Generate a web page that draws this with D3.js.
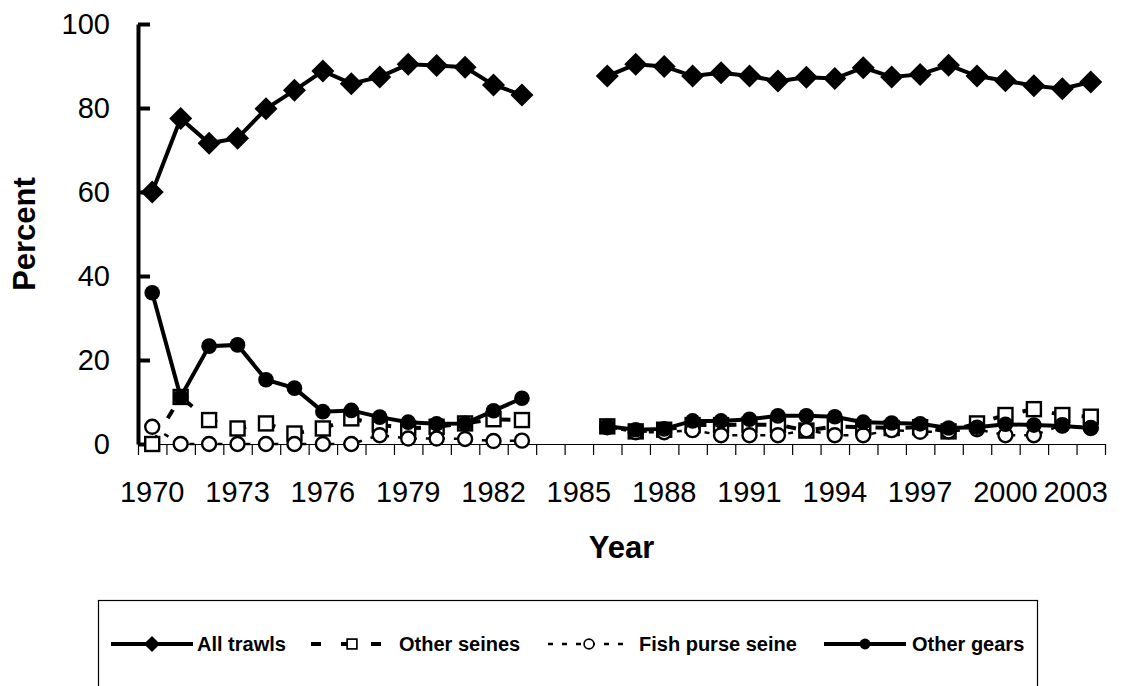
<!DOCTYPE html>
<html>
<head>
<meta charset="utf-8">
<script src="https://cdn.jsdelivr.net/npm/d3@7"></script>
<style>
  body { margin: 0; background: #fff; }
  svg { display: block; font-family: 'Liberation Sans', Arial, sans-serif; }
  .tick text { font-size: 29px; fill: #000; }
  .axis-title { font-size: 31px; font-weight: bold; }
  .legend text { font-size: 20px; font-weight: bold; }
</style>
</head>
<body>
<svg id="chart"></svg>
<script>
// years on the category axis, 1984 and 1985 have no data
var years = d3.range(1970, 2004);
var yearLabels = [1970, 1973, 1976, 1979, 1982, 1985, 1988, 1991, 1994, 1997, 2000, 2003];
var percentTicks = [0, 20, 40, 60, 80, 100];

var allTrawls = [60, 77.5, 71.6, 72.8, 79.8, 84.2, 88.8, 85.8, 87.4, 90.4, 90.1, 89.7, 85.5, 83.1,
  null, null,
  87.6, 90.4, 89.9, 87.6, 88.4, 87.6, 86.4, 87.3, 87.0, 89.6, 87.4, 88.0, 90.2, 87.6, 86.5, 85.3, 84.6, 86.2];

var otherSeines = [0, 11.2, 5.7, 3.7, 4.9, 2.5, 3.7, 6.1, 4.6, 3.7, 4.1, 4.9, 5.9, 5.7,
  null, null,
  4.2, 3.0, 3.4, 4.5, 4.5, 4.6, 4.6, 3.2, 4.2, 4.0, 3.8, 4.0, 3.0, 4.9, 6.9, 8.3, 6.9, 6.5];

var fishPurseSeine = [4.1, 0, 0, 0, 0, 0, 0, 0, 2.1, 1.3, 1.3, 1.2, 0.7, 0.8,
  null, null,
  4.0, 2.8, 2.8, 3.3, 2.1, 2.1, 2.1, 3.3, 2.1, 2.1, 3.3, 2.9, 3.0, 3.5, 2.1, 2.1, 4.5, 3.8];

var otherGears = [36, 11.2, 23.3, 23.6, 15.3, 13.3, 7.7, 8.0, 6.4, 5.2, 4.8, 4.9, 7.9, 10.9,
  null, null,
  4.2, 3.4, 3.6, 5.5, 5.5, 5.9, 6.7, 6.7, 6.5, 5.2, 5.0, 4.8, 3.8, 4.0, 4.7, 4.5, 4.3, 3.8];

var seriesNames = ["All trawls", "Other seines", "Fish purse seine", "Other gears"];


/* ~~~~~~~~~ SVG SETUP ~~~~~~~~~ */
var svgWidth = 1132, svgHeight = 686;
var plot = { left: 138, right: 1105, top: 24, bottom: 444 };

var svg = d3.select("#chart").attr("width", svgWidth).attr("height", svgHeight);
svg.append("rect").attr("width", svgWidth).attr("height", svgHeight).attr("fill", "#fff");

// category axis: each year is a slot, ticks sit on the slot edges
var x_scale = d3.scaleLinear().domain([1969.5, 2003.5]).range([plot.left, plot.right]);
var y_scale = d3.scaleLinear().domain([0, 100]).range([plot.bottom, plot.top]);

var series = [
  { name: seriesNames[0], values: allTrawls,      marker: "diamond", dash: null,    width: 4 },
  { name: seriesNames[1], values: otherSeines,    marker: "square",  dash: "10,20", width: 4 },
  { name: seriesNames[2], values: fishPurseSeine, marker: "circle",  dash: "5,9",   width: 2.5 },
  { name: seriesNames[3], values: otherGears,     marker: "dot",     dash: null,    width: 4 }
];


/* ~~~~~~~~~ axes ~~~~~~~~~ */
var xAxis = svg.append("g").attr("class", "x-axis")
  .attr("transform", "translate(0," + plot.bottom + ")");
xAxis.call(
    d3.axisBottom(x_scale)
      .tickValues(years.map(function(y){ return y - 0.5; }).concat([2003.5]))
      .tickSizeInner(11)
      .tickSizeOuter(0)
      .tickFormat("")
  )
  .call(g => g.selectAll("line").attr("stroke", "#000").attr("stroke-width", 1.2))
  .call(g => g.select(".domain").attr("stroke", "#000").attr("stroke-width", 1.2));

// year labels every 3rd year (the last one is pulled in to fit, like the original)
var xLabels = svg.append("g").attr("class", "x-labels");
xLabels.selectAll("text")
  .data(yearLabels)
  .enter()
  .append("text")
  .attr("x", function(d){ return d === 2003 ? 1108 : x_scale(d); })
  .attr("y", 502)
  .attr("text-anchor", function(d){ return d === 2003 ? "end" : "middle"; })
  .style("font-size", "29px")
  .text(function(d){ return d; });

var yAxis = svg.append("g").attr("class", "y-axis")
  .attr("transform", "translate(" + plot.left + ",0)");
yAxis.call(
    d3.axisLeft(y_scale)
      .tickValues(percentTicks)
      .tickSizeInner(-12)     // ticks point into the plot
      .tickSizeOuter(0)
      .tickPadding(28)
  )
  .call(g => g.select(".domain").attr("stroke", "#000").attr("stroke-width", 4))
  .call(g => g.selectAll("line").attr("stroke", "#000").attr("stroke-width", 4));

svg.append("text").attr("class", "axis-title")
  .attr("transform", "translate(35," + ((plot.top + plot.bottom) / 2) + ") rotate(-90)")
  .attr("text-anchor", "middle")
  .text("Percent");

svg.append("text").attr("class", "axis-title")
  .attr("x", (plot.left + plot.right) / 2)
  .attr("y", 558)
  .attr("text-anchor", "middle")
  .text("Year");


/* ~~~~~~~~~ markers ~~~~~~~~~ */
function drawMarker(g, type) {
  if (type === "diamond") {
    g.append("path").attr("d", "M0,-11.5L11.5,0L0,11.5L-11.5,0Z").attr("fill", "#000");
  } else if (type === "square") {
    g.append("rect").attr("x", -7).attr("y", -7).attr("width", 14).attr("height", 14)
      .attr("fill", "#fff").attr("stroke", "#000").attr("stroke-width", 2.4);
  } else if (type === "circle") {
    g.append("circle").attr("r", 7)
      .attr("fill", "#fff").attr("stroke", "#000").attr("stroke-width", 2.4);
  } else {
    g.append("circle").attr("r", 7.8).attr("fill", "#000");
  }
}


/* ~~~~~~~~~ lines ~~~~~~~~~ */
var line = d3.line()
  .defined(function(d){ return d.v != null; })
  .x(function(d){ return x_scale(d.year); })
  .y(function(d){ return y_scale(d.v); });

var lines = svg.append("g").attr("class", "lines");

series.forEach(function(s){
  var pts = years.map(function(y, i){ return { year: y, v: s.values[i] }; });
  var g = lines.append("g").attr("class", "series");

  g.append("path")
    .datum(pts)
    .attr("d", line)
    .attr("fill", "none")
    .attr("stroke", "#000")
    .attr("stroke-width", s.width)
    .attr("stroke-dasharray", s.dash);

  g.selectAll("g.mk")
    .data(pts.filter(function(d){ return d.v != null; }))
    .enter()
    .append("g")
    .attr("class", "mk")
    .attr("transform", function(d){ return "translate(" + x_scale(d.year) + "," + y_scale(d.v) + ")"; })
    .each(function(){ drawMarker(d3.select(this), s.marker); });
});


/* ~~~~~~~~~ legend ~~~~~~~~~ */
var legend = svg.append("g").attr("class", "legend");
legend.append("rect")
  .attr("x", 98.5).attr("y", 600.5).attr("width", 939).attr("height", 120)
  .attr("fill", "#fff").attr("stroke", "#000").attr("stroke-width", 1.2);

var legendCenters = [152, 352, 589, 865];
var legendTextX = [197, 399, 639, 912];
var legendY = 644;

series.forEach(function(s, i){
  var item = legend.append("g");
  item.append("line")
    .attr("x1", legendCenters[i] - 41).attr("x2", legendCenters[i] + 41)
    .attr("y1", legendY).attr("y2", legendY)
    .attr("stroke", "#000")
    .attr("stroke-width", s.width)
    .attr("stroke-dasharray", s.dash);
  var mk = item.append("g").attr("transform", "translate(" + legendCenters[i] + "," + legendY + ") scale(0.7)");
  drawMarker(mk, s.marker);
  item.append("text")
    .attr("x", legendTextX[i])
    .attr("y", legendY + 7)
    .text(s.name);
});
</script>
</body>
</html>
